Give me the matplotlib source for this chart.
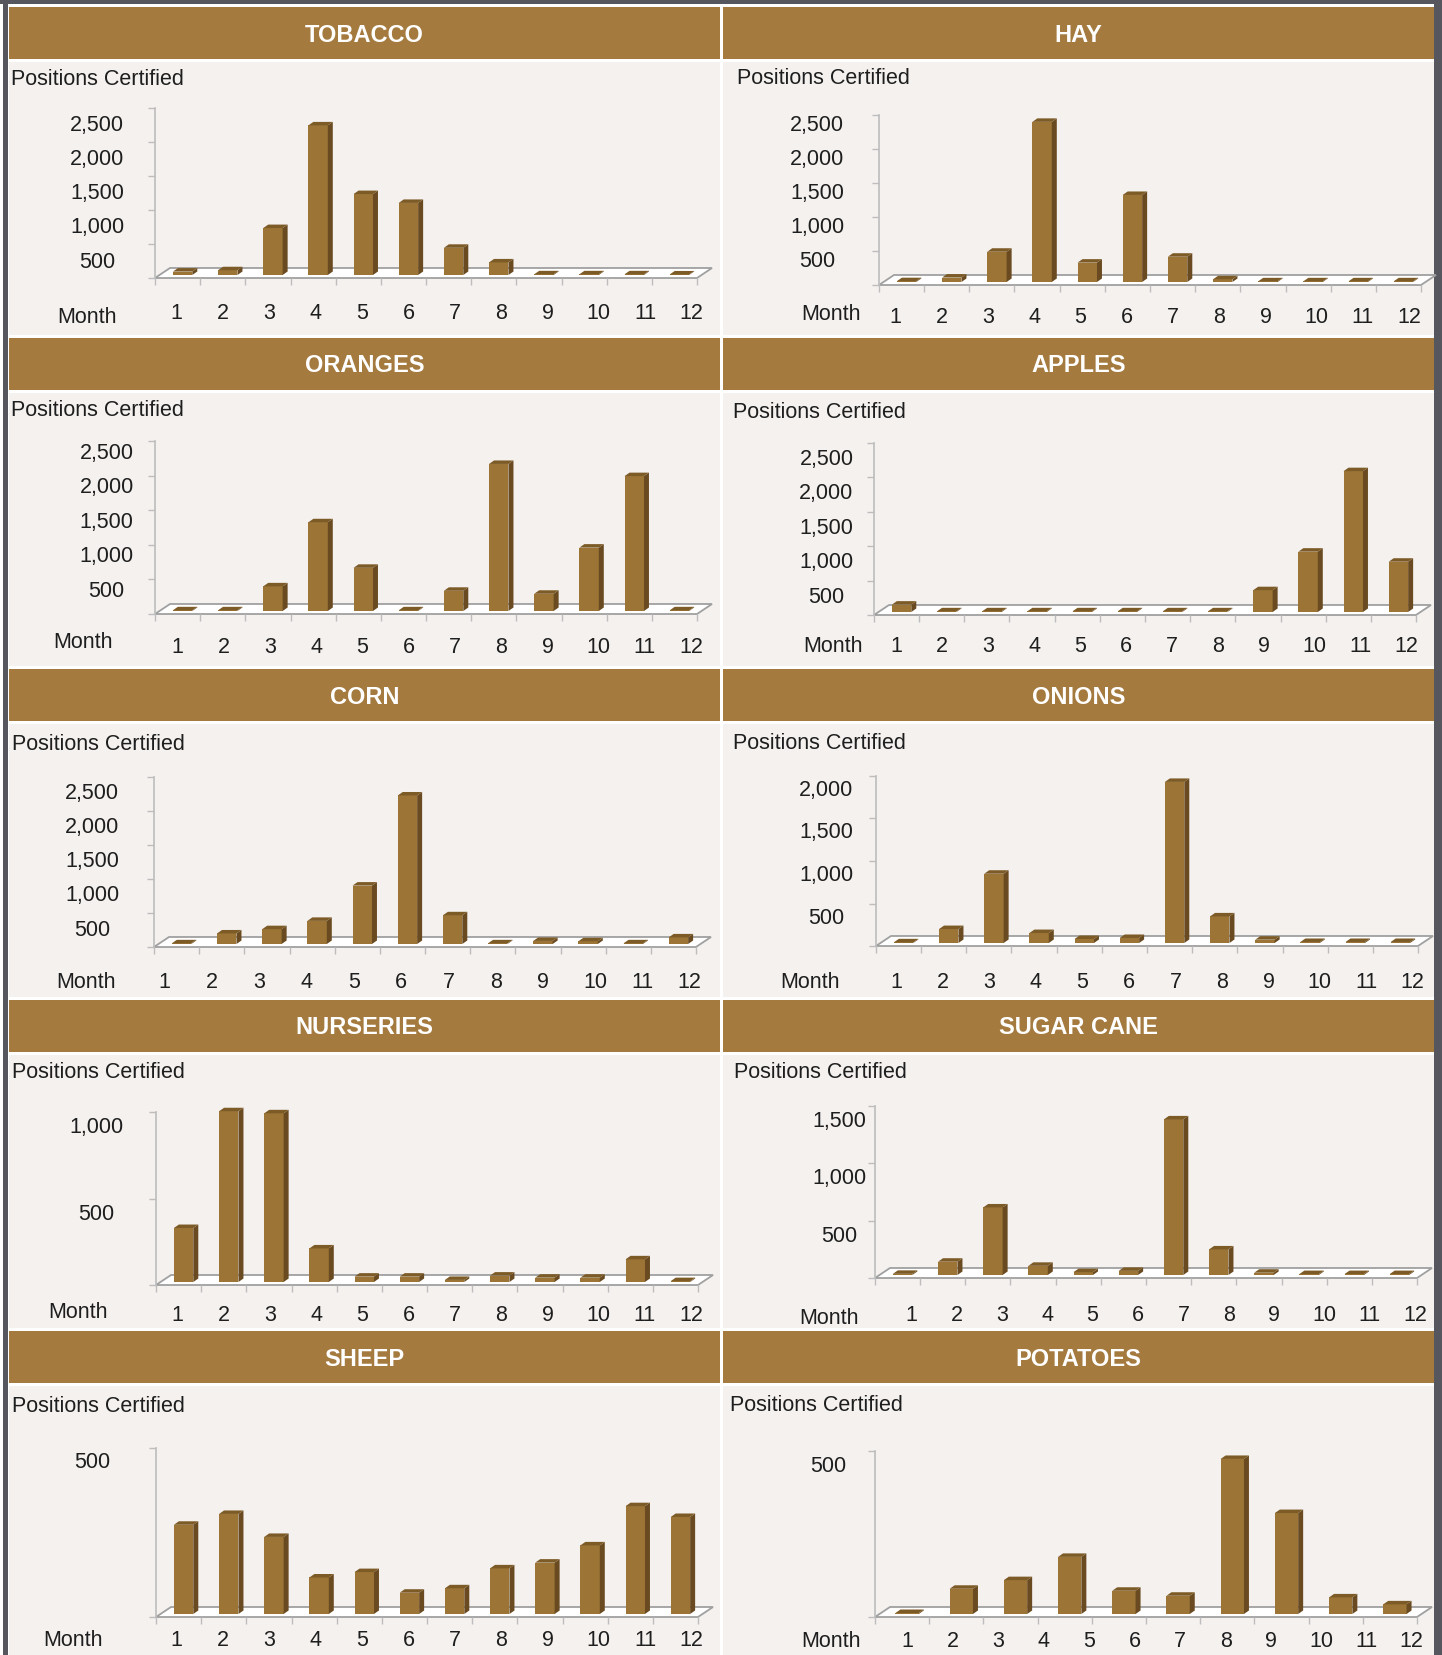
import numpy as np
import matplotlib.pyplot as plt
from matplotlib.patches import Rectangle, Polygon
from matplotlib.transforms import offset_copy, blended_transform_factory

plt.rcParams['font.family'] = ['Liberation Sans', 'DejaVu Sans']

W_PX, H_PX = 1442, 1655

# positions certified per month
months = list(range(1, 13))
tobacco = [50, 70, 690, 2200, 1190, 1060, 400, 185, 10, 10, 10, 8]
hay = [12, 65, 445, 2355, 285, 1280, 372, 40, 10, 10, 10, 10]
oranges = [10, 10, 356, 1282, 624, 10, 292, 2125, 249, 916, 1949, 10]
apples = [107, 10, 10, 10, 10, 10, 10, 10, 317, 877, 2047, 731]
corn = [10, 155, 218, 340, 859, 2184, 422, 10, 45, 40, 10, 97]
onions = [8, 164, 815, 117, 47, 59, 1895, 313, 39, 12, 12, 12]
nurseries = [312, 987, 975, 194, 31, 31, 12, 37, 25, 25, 131, 5]
sugar_cane = [10, 116, 589, 80, 25, 36, 1357, 223, 20, 8, 8, 8]
sheep = [264, 296, 228, 108, 124, 63, 76, 135, 152, 203, 319, 287]
potatoes = [3, 76, 102, 172, 70, 55, 467, 304, 50, 29]

crops = ["TOBACCO", "HAY", "ORANGES", "APPLES", "CORN", "ONIONS",
         "NURSERIES", "SUGAR CANE", "SHEEP", "POTATOES"]
series = [tobacco, hay, oranges, apples, corn, onions,
          nurseries, sugar_cane, sheep, potatoes]
axis_max = [2500, 2500, 2500, 2500, 2500, 2000, 1000, 1500, 500, 500]

# page layout (pixels)
ROW_TOP = [7, 338, 669, 1000, 1331]
COLS = [(9, 720), (723, 1434)]
HEAD_H = 52
CHART_W = 542
TEXT_DY = 2.5

# axis x, axis top, axis bottom, label centre x, label drop,
# "Positions Certified" xy, "Month" xy, month row y, first month x, month step
layout = [
    dict(ax_x=155, top=108, bot=278, lab_x=97, lab_dy=17, pc=(10.6, 77), mo=(86.6, 314.6), row_y=311.4, m_x=176.3, m_step=46.45),
    dict(ax_x=879, top=115, bot=285, lab_x=817, lab_dy=9.5, pc=(736.8, 76), mo=(830.8, 312.5), row_y=314.6, m_x=895.2, m_step=46.3),
    dict(ax_x=155, top=441, bot=614, lab_x=106.6, lab_dy=11, pc=(10.6, 408.5), mo=(83.4, 639.7), row_y=645, m_x=177.3, m_step=46.3),
    dict(ax_x=874, top=443, bot=615, lab_x=826.5, lab_dy=15.5, pc=(732.6, 409.6), mo=(832.9, 644), row_y=644, m_x=896.2, m_step=46.0),
    dict(ax_x=154, top=777, bot=947, lab_x=92, lab_dy=16, pc=(11.6, 742), mo=(85.5, 979.6), row_y=979.6, m_x=164.7, m_step=47.3),
    dict(ax_x=876, top=776, bot=946, lab_x=826.5, lab_dy=13.5, pc=(732.6, 741), mo=(809.6, 979.6), row_y=979.6, m_x=896.2, m_step=46.55),
    dict(ax_x=156, top=1112, bot=1285, lab_x=96, lab_dy=15, pc=(11.6, 1070.4), mo=(78, 1310), row_y=1313, m_x=177.3, m_step=46.3),
    dict(ax_x=875, top=1106, bot=1278, lab_x=839, lab_dy=14.5, pc=(733.6, 1070.4), mo=(828.6, 1316.4), row_y=1313, m_x=911, m_step=45.4),
    dict(ax_x=156, top=1448, bot=1617, lab_x=91.8, lab_dy=14, pc=(11.6, 1404), mo=(72.8, 1638), row_y=1638, m_x=176.3, m_step=46.45),
    dict(ax_x=875, top=1451, bot=1617, lab_x=828.7, lab_dy=15, pc=(730.4, 1403), mo=(830.8, 1639), row_y=1639, m_x=907.8, m_step=45.4),
]

HEAD = "#A47A3F"
BODY = "#F4F1EF"
FRAME = "#56565E"
FRONT = "#9C7536"
SIDE = "#6A4B21"
TOP = "#7D5B27"
GRID = "#BDBDBD"
INK = "#1E1E1E"
FS = 15.5


def draw_columns(ax, values, ymax, w_px, h_px):
    n = len(values)
    kx = n / w_px
    ky = ymax / h_px
    ax.set_xlim(0.5, n + 0.5)
    ax.set_ylim(0, ymax)

    # white floor slab
    fdx, fdy = 15 * kx, 10 * ky
    ax.add_patch(Polygon([(0.5, 0), (n + 0.5, 0), (n + 0.5 + fdx, fdy), (0.5 + fdx, fdy)],
                         closed=True, facecolor="white", edgecolor="#A0A0A0",
                         lw=1.3, zorder=1, clip_on=False))

    x = np.arange(1, n + 1)
    bw = 0.43
    ox, oy = 5 * kx, 3 * ky
    dx, dy = 5 * kx, 3.5 * ky
    ax.bar(x + ox, values, width=bw, bottom=oy, color=FRONT, zorder=3, clip_on=False)
    for xi, v in zip(x, values):
        xl, xr = xi + ox - bw / 2, xi + ox + bw / 2
        b, t = oy, oy + v
        ax.add_patch(Polygon([(xr, b), (xr, t), (xr + dx, t + dy), (xr + dx, b + dy)],
                             closed=True, facecolor=SIDE, edgecolor="none",
                             zorder=3, clip_on=False))
        ax.add_patch(Polygon([(xl, t), (xr, t), (xr + dx, t + dy), (xl + dx, t + dy)],
                             closed=True, facecolor=TOP, edgecolor="none",
                             zorder=3, clip_on=False))

    for s in ["top", "right", "bottom"]:
        ax.spines[s].set_visible(False)
    ax.spines["left"].set_color(GRID)
    ax.spines["left"].set_linewidth(1.2)
    ax.set_yticks(np.arange(0, ymax + 1, 500))
    ax.set_xticks(np.arange(0.5, n + 1, 1.0))
    ax.tick_params(axis="both", length=5, width=1, color=GRID,
                   labelleft=False, labelbottom=False)
    ax.set_facecolor("none")


fig = plt.figure(figsize=(W_PX / 100, H_PX / 100), dpi=100, facecolor="white")
bg = fig.add_axes([0, 0, 1, 1])
bg.set_xlim(0, W_PX)
bg.set_ylim(H_PX, 0)
bg.axis("off")

# dark page frame
bg.add_patch(Rectangle((3, 0), 5, H_PX, color=FRAME, lw=0))
bg.add_patch(Rectangle((0, 0), W_PX, 4, color=FRAME, lw=0))
bg.add_patch(Rectangle((1434, 0), 8, H_PX, color=FRAME, lw=0))

for i, (name, vals, ymax, lay) in enumerate(zip(crops, series, axis_max, layout)):
    row, col = divmod(i, 2)
    x0, x1 = COLS[col]
    y0 = ROW_TOP[row]
    bg.add_patch(Rectangle((x0, y0), x1 - x0, HEAD_H, color=HEAD, lw=0))
    bg.add_patch(Rectangle((x0, y0 + HEAD_H + 3), x1 - x0, 273, color=BODY, lw=0))
    bg.text((x0 + x1) / 2, y0 + HEAD_H / 2 + 2, name, color="white", fontsize=17,
            fontweight="bold", ha="center", va="center")

    bg.text(lay["pc"][0], lay["pc"][1] + TEXT_DY, "Positions Certified", color=INK,
            fontsize=FS, ha="left", va="center")
    bg.text(lay["mo"][0], lay["mo"][1] + TEXT_DY, "Month", color=INK, fontsize=FS,
            ha="center", va="center")
    for k in months:
        mx = lay["m_x"] + (k - 1) * lay["m_step"] + (4.5 if k >= 10 else 0)
        bg.text(mx, lay["row_y"] + TEXT_DY, str(k), color=INK, fontsize=FS,
                ha="center", va="center")

    h = lay["bot"] - lay["top"]
    ax = fig.add_axes([lay["ax_x"] / W_PX, 1 - lay["bot"] / H_PX, CHART_W / W_PX, h / H_PX])
    draw_columns(ax, vals, ymax, CHART_W, h)

    # value labels sit a little below their tick marks
    trans = offset_copy(blended_transform_factory(ax.transAxes, ax.transData),
                        fig=fig, y=-(lay["lab_dy"] + 1), units="dots")
    lx = (lay["lab_x"] - lay["ax_x"]) / CHART_W
    for v in range(500, ymax + 1, 500):
        ax.text(lx, v, f"{v:,}", transform=trans, color=INK, fontsize=FS,
                ha="center", va="center", clip_on=False)

fig.savefig("out.png", dpi=100, facecolor="white")
